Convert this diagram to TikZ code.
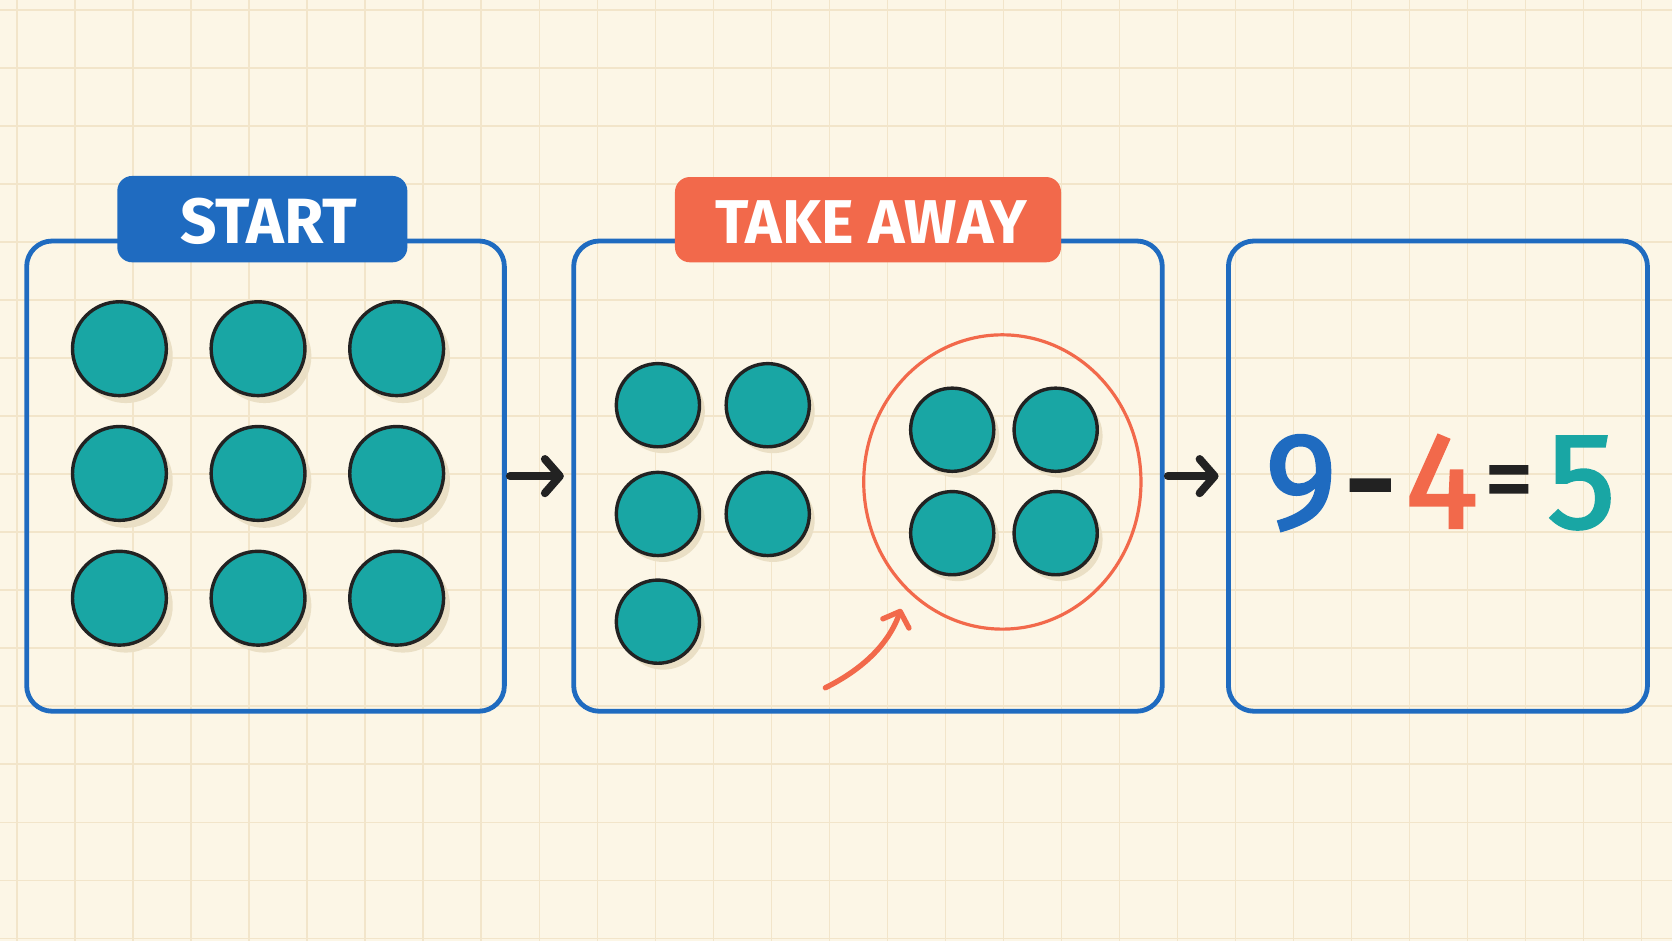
\documentclass[tikz,border=0pt]{standalone}
\usepackage{fontspec}
\setmainfont{Fira Sans}
\newfontfamily\eqfont[FakeBold=2]{Fira Sans}
\usetikzlibrary{arrows.meta,shapes.geometric}
\definecolor{paper}{HTML}{FCF6E6}
\definecolor{gridc}{HTML}{F2E5CA}
\definecolor{bblue}{HTML}{1F6BC0}
\definecolor{oran}{HTML}{F2694B}
\definecolor{teal}{HTML}{19A6A4}
\definecolor{ink}{HTML}{222222}
\definecolor{shade}{HTML}{EADFC5}
\tikzset{
  panel/.style={draw=bblue, line width=4.5pt, rounded corners=24pt},
  tag/.style={rounded corners=14pt, inner sep=0pt},
  tagtext/.style={text=white, font=\fontsize{60}{66}\selectfont\bfseries, inner sep=0pt},
  dot/.style={circle, draw=ink, fill=teal, line width=3.2pt, minimum size=#1, inner sep=0pt},
  shadowdot/.style={circle, fill=shade, minimum size=#1, inner sep=0pt},
  flow/.style={draw=ink, line width=7.5pt, line cap=round, -{Straight Barb[length=14pt,width=32pt,line width=7.5pt,round]}},
  digit/.style={font=\fontsize{128}{140}\selectfont\eqfont, inner sep=0pt, anchor=base}
}
\begin{document}
\begin{tikzpicture}[x=1pt,y=-1pt]
\fill[paper] (0,0) rectangle (1568,882);
\useasboundingbox (0,0) rectangle (1568,882);
\foreach \i in {0,...,28} {\draw[gridc, line width=1.2pt] (16+54.4*\i,0) -- (16+54.4*\i,882);}
\foreach \j in {0,...,16} {\draw[gridc, line width=1.2pt] (0,9.4+54.4*\j) -- (1568,9.4+54.4*\j);}

% panels
\node[panel, minimum width=448pt, minimum height=441pt] (p1) at (249,446.5) {};
\node[panel, minimum width=552pt, minimum height=441pt] (p2) at (814,446.5) {};
\node[panel, minimum width=393pt, minimum height=441pt] (p3) at (1348.5,446.5) {};

% tags
\node[tag, fill=bblue, minimum width=272pt, minimum height=81pt] (t1) at (246,205.5) {};
\node[tagtext] (t1txt) at (252,208) {START};
\node[tag, fill=oran, minimum width=362pt, minimum height=80pt] (t2) at (814,206) {};
\node[tagtext, font=\fontsize{58}{64}\selectfont\bfseries] (t2txt) at (817,208) {TAKE AWAY};

% dots panel 1
\foreach \c/\x/\y in {a/112/327,b/242/327,c/372/327,d/112/444,e/242/444,f/372/444,g/112/561,h/242/561,i/372/561} {
  \node[shadowdot=88pt] (s\c) at (\x+6,\y+7) {};
  \node[dot=88pt] (d\c) at (\x,\y) {};
}
% dots panel 2
\foreach \c/\x/\y in {a/617/380,b/720/380,c/617/482,d/720/482,e/617/583,f/893/403,g/990/403,h/893/500,i/990/500} {
  \node[shadowdot=78pt] (u\c) at (\x+5,\y+6) {};
  \node[dot=78pt] (e\c) at (\x,\y) {};
}

% take-away ellipse
\node[ellipse, draw=oran, line width=3pt, minimum width=260pt, minimum height=276pt] (grp) at (940,452) {};
\coordinate (cs) at (774,645);
\coordinate (ce) at (845,571);
\draw[oran, line width=5pt, line cap=round, -{Straight Barb[length=12pt,width=26pt,line width=5pt,round]}] (cs) .. controls (808,628) and (833,605) .. (ce);

% arrows between panels
\draw[flow] (p1.east) ++(3,0) coordinate (a1) -- ([xshift=-7pt]p2.west);
\draw[flow] (p2.east) ++(3,0) coordinate (a2) -- ([xshift=-7pt]p3.west);

% equation
\node[digit, text=bblue] (n9) at (1220,495) {9};
\node[digit, text=ink] (mi) at (1285,495) {-};
\node[digit, text=oran] (n4) at (1352,495) {4};
\node[digit, text=ink, font=\fontsize{92}{100}\selectfont\eqfont] (eq) at (1415,480) {=};
\node[digit, text=teal] (n5) at (1483,495) {5};
\end{tikzpicture}
\end{document}
